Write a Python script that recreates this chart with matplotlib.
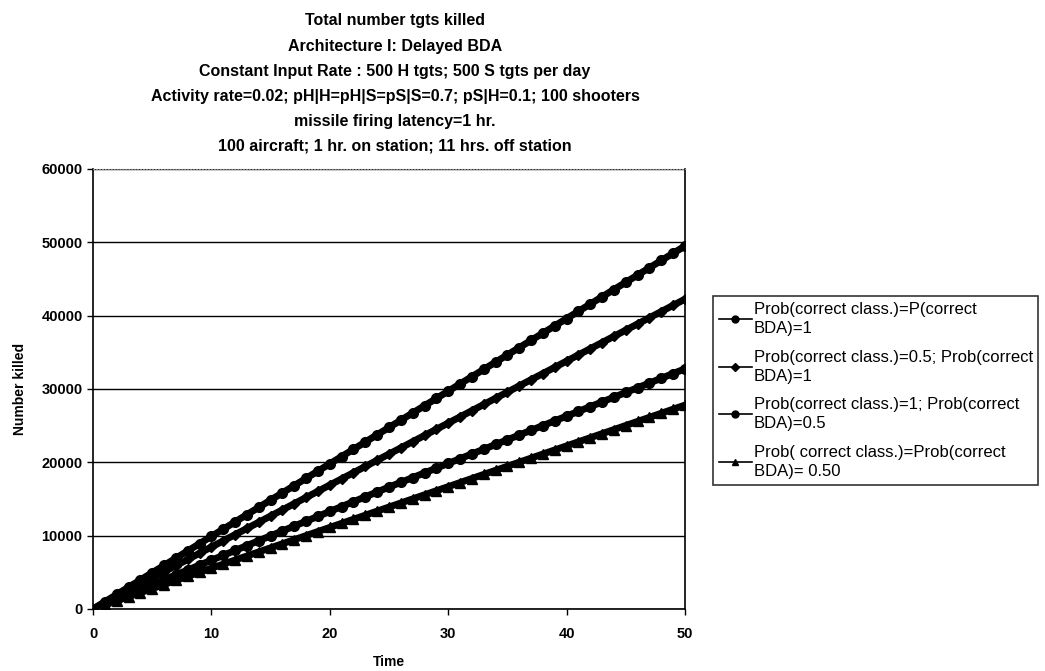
import numpy as np
import matplotlib
matplotlib.use("Agg")
from matplotlib import pyplot as plt

plt.rcParams['font.family'] = ['Liberation Sans', 'DejaVu Sans']

# time in days at whole steps
time = list(range(0, 51))

s1 = [0, 990, 1980, 2970, 3960, 4950, 5940, 6930, 7920, 8910, 9900,
      10890, 11880, 12870, 13860, 14850, 15840, 16830, 17820, 18810, 19800,
      20790, 21780, 22770, 23760, 24750, 25740, 26730, 27720, 28710, 29700,
      30690, 31680, 32670, 33660, 34650, 35640, 36630, 37620, 38610, 39600,
      40590, 41580, 42570, 43560, 44550, 45540, 46530, 47520, 48510, 49500]
s2 = [0, 845, 1690, 2535, 3380, 4225, 5070, 5915, 6760, 7605, 8450,
      9295, 10140, 10985, 11830, 12675, 13520, 14365, 15210, 16055, 16900,
      17745, 18590, 19435, 20280, 21125, 21970, 22815, 23660, 24505, 25350,
      26195, 27040, 27885, 28730, 29575, 30420, 31265, 32110, 32955, 33800,
      34645, 35490, 36335, 37180, 38025, 38870, 39715, 40560, 41405, 42250]
s3 = [0, 665, 1330, 1995, 2660, 3325, 3990, 4655, 5320, 5985, 6650,
      7315, 7980, 8645, 9310, 9975, 10640, 11305, 11970, 12635, 13300,
      13965, 14630, 15295, 15960, 16625, 17270, 17915, 18560, 19205, 19850,
      20495, 21140, 21785, 22430, 23075, 23720, 24365, 25010, 25655, 26300,
      26945, 27590, 28235, 28880, 29525, 30170, 30815, 31460, 32105, 32750]
s4 = [0, 556, 1112, 1668, 2224, 2780, 3336, 3892, 4448, 5004, 5560,
      6116, 6672, 7228, 7784, 8340, 8896, 9452, 10008, 10564, 11120,
      11676, 12232, 12788, 13344, 13900, 14456, 15012, 15568, 16124, 16680,
      17236, 17792, 18348, 18904, 19460, 20016, 20572, 21128, 21684, 22240,
      22796, 23352, 23908, 24464, 25020, 25576, 26132, 26688, 27244, 27800]

labels = ["Prob(correct class.)=P(correct\nBDA)=1",
          "Prob(correct class.)=0.5; Prob(correct\nBDA)=1",
          "Prob(correct class.)=1; Prob(correct\nBDA)=0.5",
          "Prob( correct class.)=Prob(correct\nBDA)= 0.50"]
markers = ["o", "D", "o", "^"]
msizes = [7, 5.5, 7, 7]

title = ("Total number tgts killed\n"
         "Architecture I: Delayed BDA\n"
         "Constant Input Rate : 500 H tgts; 500 S tgts per day\n"
         "Activity rate=0.02; pH|H=pH|S=pS|S=0.7; pS|H=0.1; 100 shooters\n"
         "missile firing latency=1 hr.\n"
         "100 aircraft; 1 hr. on station; 11 hrs. off station")

fig = plt.figure(figsize=(10.45, 6.71), dpi=100)
ax = fig.add_axes([0.089, 0.0924, 0.5665, 0.6558])

for ys, lab, m, ms in zip([s1, s2, s3, s4], labels, markers, msizes):
    ax.plot(time, ys, color="black", lw=5, marker=m, markersize=ms, label=lab)

ax.set_xlim(0, 50)
ax.set_ylim(0, 60000)
ax.set_xticks(range(0, 51, 10))
ax.set_yticks(range(0, 60001, 10000))
ax.yaxis.grid(True, color="black", lw=1)
ax.set_axisbelow(True)
for sp in ["left", "bottom", "right"]:
    ax.spines[sp].set_color("black")
    ax.spines[sp].set_linewidth(1.2)
ax.spines["top"].set_color("#888888")
ax.spines["top"].set_linestyle(":")
ax.tick_params(direction="out", length=4, width=1, labelsize=10.5)
ax.tick_params(axis="x", pad=9)
for t in ax.get_xticklabels() + ax.get_yticklabels():
    t.set_fontweight("bold")

ax.set_xlabel("Time", fontsize=10, fontweight="bold", labelpad=10)
ax.set_ylabel("Number killed", fontsize=10, fontweight="bold", labelpad=10)

fig.text(0.378, 0.98, title, ha="center", va="top", fontsize=11.5,
         fontweight="bold", linespacing=1.84)

handles = [plt.Line2D([], [], color="black", lw=1.2, marker=m, markersize=ms)
           for m, ms in zip(markers, [5, 4.5, 5, 5])]
leg = ax.legend(handles=handles, labels=labels, loc="center left",
                bbox_to_anchor=(0.682, 0.418), bbox_transform=fig.transFigure,
                borderaxespad=0, frameon=True, fancybox=False,
                edgecolor="black", fontsize=12, handlelength=2.0,
                handletextpad=0.1, labelspacing=0.8, borderpad=0.35)
for t in leg.get_texts():
    t.set_linespacing(1.35)
leg.get_frame().set_linewidth(1.2)

plt.savefig("out.png", dpi=100)
